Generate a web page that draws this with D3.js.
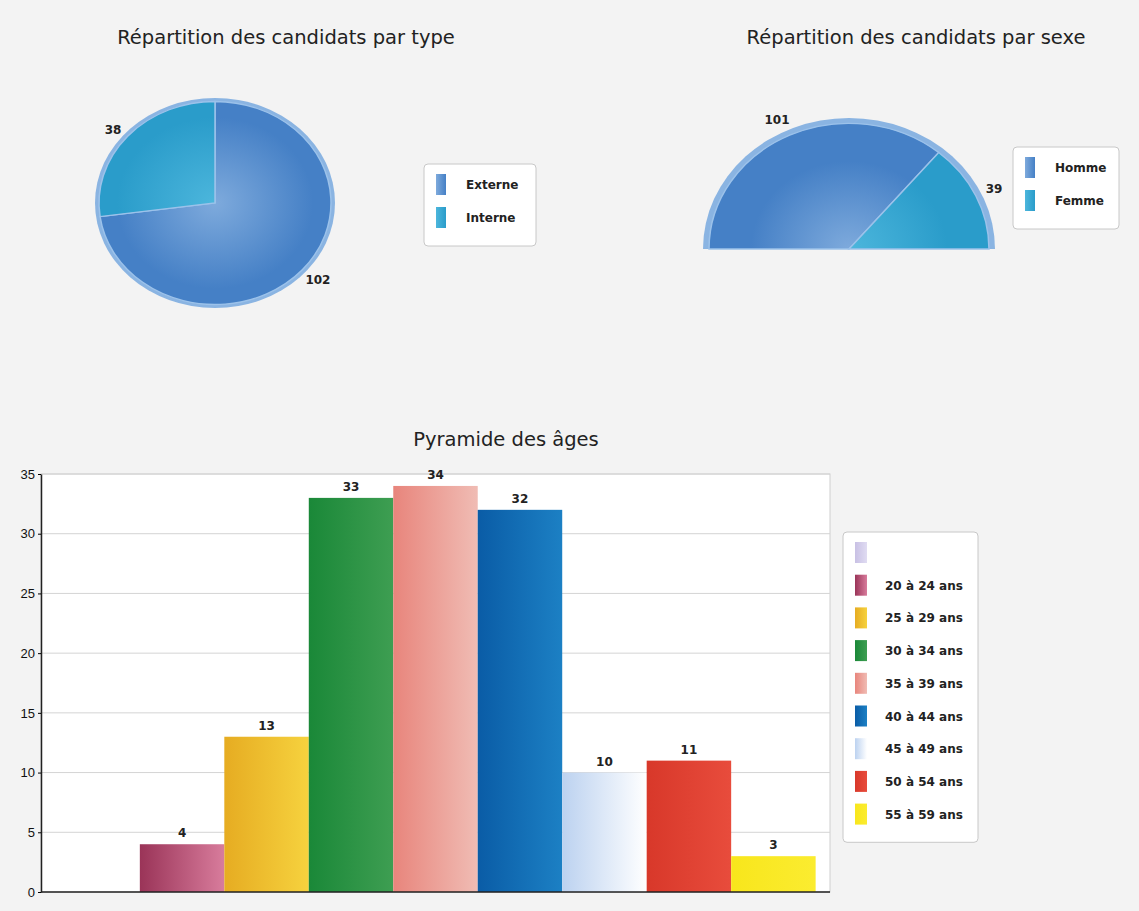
<!DOCTYPE html>
<html>
<head>
<meta charset="utf-8">
<script src="https://cdn.jsdelivr.net/npm/d3@7"></script>
<style>
  body { margin: 0; background: #f3f3f3; }
  svg { display: block; font-family: "DejaVu Sans", Verdana, sans-serif; }
  .title { font-size: 19.5px; fill: #222; }
  .lbl { font-size: 12px; font-weight: bold; fill: #222; }
  .axis text { font-size: 13px; fill: #111; }
</style>
</head>
<body>
<svg id="chart" width="1139" height="911"></svg>
<script>
// pie 1: par type
const typeLabels = ['Externe', 'Interne'];
const typeValues = [102, 38];
// pie 2: par sexe
const sexeLabels = ['Homme', 'Femme'];
const sexeValues = [101, 39];
// bars: pyramide des ages
const ageLabels = ['', '20 à 24 ans', '25 à 29 ans', '30 à 34 ans', '35 à 39 ans',
  '40 à 44 ans', '45 à 49 ans', '50 à 54 ans', '55 à 59 ans'];
const ageValues = [0, 4, 13, 33, 34, 32, 10, 11, 3];
const yTicks = [0, 5, 10, 15, 20, 25, 30, 35];

// left/right colour of each bar gradient
const ageColors = [
  ['#c8c0e4', '#e0dcf2'],
  ['#9a3458', '#d87c9c'],
  ['#e6ac22', '#f6d23e'],
  ['#1a8838', '#3e9e52'],
  ['#e8857c', '#f0bcb4'],
  ['#0a5ca6', '#1c80c4'],
  ['#bcd2f0', '#ffffff'],
  ['#d8382a', '#e84c3c'],
  ['#f8e61c', '#fbec30']
];
const pieColors = [['#4580c6', '#7eaadc'], ['#2a9cca', '#4cb6dc']];

let svg = d3.select('#chart');
let defs = svg.append('defs');

function hGrad(id, c) {
  let g = defs.append('linearGradient').attr('id', id)
    .attr('x1', 0).attr('x2', 1).attr('y1', 0).attr('y2', 0);
  g.append('stop').attr('offset', '0%').attr('stop-color', c[0]);
  g.append('stop').attr('offset', '100%').attr('stop-color', c[1]);
}
function rGrad(id, c) {
  let g = defs.append('radialGradient').attr('id', id)
    .attr('gradientUnits', 'userSpaceOnUse')
    .attr('cx', 0).attr('cy', 0).attr('r', 140);
  g.append('stop').attr('offset', '0%').attr('stop-color', c[1]);
  g.append('stop').attr('offset', '70%').attr('stop-color', c[0]);
}
ageColors.forEach((c, i) => hGrad('age' + i, c));
pieColors.forEach((c, i) => { rGrad('pie' + i, c); hGrad('leg' + i, [c[1], c[0]]); });

// legend box helper
function legend(x, y, w, labels, fills, step, sw) {
  let n = labels.length;
  let g = svg.append('g').attr('transform', `translate(${x},${y})`);
  g.append('rect').attr('width', w).attr('height', 16 + n * step)
    .attr('rx', 4).attr('fill', '#fff').attr('stroke', '#c8c8c8');
  labels.forEach((l, i) => {
    g.append('rect').attr('x', 12).attr('y', 10 + i * step)
      .attr('width', sw).attr('height', 21).attr('fill', fills[i]);
    g.append('text').attr('class', 'lbl').attr('x', 42).attr('y', 25 + i * step).text(l);
  });
}

// ---------- pie 1 ----------
function makePie1() {
  let cx = 215, cy = 203, r = 120, ry = 105;
  svg.append('text').attr('class', 'title').attr('x', 286).attr('y', 44)
    .style('text-anchor', 'middle').text('Répartition des candidats par type');

  let pie = d3.pie().sort(null);
  let arcs = pie(typeValues);
  let arc = d3.arc().innerRadius(0).outerRadius(r - 4);
  let g = svg.append('g').attr('transform', `translate(${cx},${cy}) scale(1,${ry / r})`);
  g.append('circle').attr('r', r).attr('fill', '#8ab4e2');
  g.selectAll('path').data(arcs).enter().append('path')
    .attr('d', arc).attr('fill', (d, i) => `url(#pie${i})`)
    .attr('stroke', '#9cc2ea').attr('stroke-width', 1.5);

  let lab = d3.arc().innerRadius(r + 22).outerRadius(r + 22);
  svg.selectAll('.p1lbl').data(arcs).enter().append('text')
    .attr('class', 'lbl')
    .attr('x', (d, i) => cx + lab.centroid(d)[0] + (i == 0 ? -4 : 5))
    .attr('y', (d, i) => cy + lab.centroid(d)[1] * ry / r + (i == 0 ? -1 : 13))
    .style('text-anchor', 'middle')
    .text((d) => d.data);

  legend(424, 164, 112, typeLabels, ['url(#leg0)', 'url(#leg1)'], 33, 10);
}

// ---------- pie 2 (half) ----------
function makePie2() {
  let cx = 849, cy = 249, r = 146, ry = 131;
  svg.append('text').attr('class', 'title').attr('x', 916).attr('y', 44)
    .style('text-anchor', 'middle').text('Répartition des candidats par sexe');

  let pie = d3.pie().sort(null).startAngle(-Math.PI / 2).endAngle(Math.PI / 2);
  let arcs = pie(sexeValues);
  let arc = d3.arc().innerRadius(0).outerRadius(r - 6);
  let g = svg.append('g').attr('transform', `translate(${cx},${cy}) scale(1,${ry / r})`);
  g.append('path')
    .attr('d', d3.arc().innerRadius(0).outerRadius(r)({ startAngle: -Math.PI / 2, endAngle: Math.PI / 2 }))
    .attr('fill', '#8ab4e2');
  g.selectAll('path.s').data(arcs).enter().append('path').attr('class', 's')
    .attr('d', arc).attr('fill', (d, i) => `url(#pie${i})`)
    .attr('stroke', '#9cc2ea').attr('stroke-width', 1.5);

  svg.append('text').attr('class', 'lbl').attr('x', 777).attr('y', 124)
    .style('text-anchor', 'middle').text(sexeValues[0]);
  svg.append('text').attr('class', 'lbl').attr('x', 994).attr('y', 193)
    .style('text-anchor', 'middle').text(sexeValues[1]);

  legend(1013, 147, 106, sexeLabels, ['url(#leg0)', 'url(#leg1)'], 33, 10);
}

// ---------- bars ----------
function makeBars() {
  let left = 41, right = 830, top = 474, bottom = 892;
  svg.append('text').attr('class', 'title').attr('x', 506).attr('y', 446)
    .style('text-anchor', 'middle').text('Pyramide des âges');

  svg.append('rect').attr('x', left).attr('y', top)
    .attr('width', right - left).attr('height', bottom - top)
    .attr('fill', '#fff').attr('stroke', '#cfcfcf');

  let xScale = d3.scaleBand().domain(ageLabels.map((d, i) => i))
    .range([left, right]).paddingInner(0).paddingOuter(0.17);
  let yScale = d3.scaleLinear().domain([0, 35]).range([bottom, top]);

  // gridlines
  svg.append('g').selectAll('line').data(yTicks.slice(1)).enter().append('line')
    .attr('x1', left).attr('x2', right)
    .attr('y1', (d) => yScale(d)).attr('y2', (d) => yScale(d))
    .attr('stroke', '#d4d4d4');

  svg.append('g').selectAll('rect').data(ageValues).enter().append('rect')
    .attr('x', (d, i) => xScale(i))
    .attr('y', (d) => yScale(d))
    .attr('width', xScale.bandwidth())
    .attr('height', (d) => bottom - yScale(d))
    .attr('fill', (d, i) => `url(#age${i})`);

  svg.append('g').selectAll('text').data(ageValues).enter().append('text')
    .filter((d) => d > 0)
    .attr('class', 'lbl')
    .attr('x', (d) => xScale(ageValues.indexOf(d)) + xScale.bandwidth() / 2)
    .attr('y', (d) => yScale(d) - 7)
    .style('text-anchor', 'middle')
    .text((d) => d);

  let yAxis = d3.axisLeft(yScale).tickValues(yTicks).tickSize(3).tickSizeOuter(0);
  svg.append('g').attr('class', 'axis')
    .attr('transform', `translate(${left},0)`)
    .call(yAxis)
    .call((g) => g.select('.domain').attr('stroke', '#222').attr('stroke-width', 1.5));

  svg.append('line').attr('x1', left).attr('x2', right)
    .attr('y1', bottom).attr('y2', bottom)
    .attr('stroke', '#222').attr('stroke-width', 1.5);

  legend(843, 532, 135, ageLabels, ageLabels.map((d, i) => `url(#age${i})`), 32.7, 12);
}

makePie1();
makePie2();
makeBars();
</script>
</body>
</html>
